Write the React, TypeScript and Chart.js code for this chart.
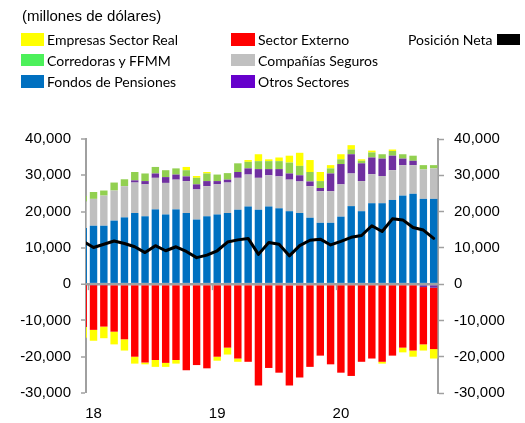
import React, { useEffect, useRef } from 'react';
import { Chart, registerables } from 'chart.js';

Chart.register(...registerables);

// Monthly categories (dic-17 is only partly visible at the left edge)
const months = [
  'dic-17',
  'ene-18', 'feb-18', 'mar-18', 'abr-18', 'may-18', 'jun-18', 'jul-18', 'ago-18', 'sep-18', 'oct-18', 'nov-18', 'dic-18',
  'ene-19', 'feb-19', 'mar-19', 'abr-19', 'may-19', 'jun-19', 'jul-19', 'ago-19', 'sep-19', 'oct-19', 'nov-19', 'dic-19',
  'ene-20', 'feb-20', 'mar-20', 'abr-20', 'may-20', 'jun-20', 'jul-20', 'ago-20', 'sep-20', 'oct-20',
];

const fondosPensiones = [
  15500,
  16100, 16100, 17500, 18400, 19600, 18700, 20600, 19200, 20600, 19600, 17800, 18700,
  19200, 19600, 20500, 21400, 20500, 21400, 20900, 20100, 19600, 18300, 16900, 16900,
  18600, 21500, 20100, 22300, 22300, 23200, 24400, 24900, 23500, 23500,
];

const companiasSeguros = [
  7300,
  7400, 8300, 8300, 8600, 8400, 8800, 8700, 8700, 8200, 8800, 8300, 8300,
  8300, 8400, 8800, 8800, 8800, 8600, 8800, 8700, 8700, 8700, 8700, 8700,
  8900, 9000, 8300, 8000, 7500, 8200, 8400, 7900, 8100, 8400,
];

const otrosSectores = [
  -300,
  -300, -300, 0, 0, 600, 900, 1200, 1600, 1400, 1300, 1400, 1400,
  900, 800, 1600, 1700, 2400, 1700, 2000, 1700, 1700, 1300, 900, 4900,
  5600, 5300, 4900, 4600, 4800, 4000, 1800, 1200, -800, -1000,
];

const sectorExterno = [
  -11500,
  -12300, -11400, -13100, -15200, -20000, -21600, -20900, -21700, -20900, -23700, -22300, -23200,
  -20000, -17500, -20500, -21400, -27900, -23100, -24400, -27900, -25700, -22800, -19700, -22100,
  -24400, -25300, -21400, -20500, -21400, -19700, -17500, -18300, -15800, -16900,
];

const corredorasFFMM = [
  1500,
  1900, 1400, 2200, 1900, 2300, 2100, 1800, 1900, 1700, 1700, 1800, 2100,
  1800, 1800, 2400, 1800, 2200, 2200, 2200, 3000, 2600, 2600, 1900, 1400,
  1300, 1300, 700, 1400, 1200, 1300, 1200, 1400, 1200, 900,
];

const empresasSectorReal = [
  -3000,
  -3000, -3200, -3500, -3100, -1900, -500, -1900, -1100, -1000, 900, 500, 400,
  -1100, -1900, -900, 500, 1900, 500, 1000, 1900, 3600, 3300, 2500, 900,
  1400, 1200, 400, 500, -500, 400, -1300, -1700, -1700, -2600,
];

const posicionNeta = [
  11800,
  10100, 11000, 11900, 11200, 10300, 8700, 10600, 9200, 10300, 9000, 7300, 8000,
  9200, 11600, 12200, 12600, 8200, 11500, 11000, 7800, 10600, 12100, 12400, 10800,
  11800, 12900, 13400, 16100, 14500, 18000, 17700, 15600, 14900, 12600,
];

const yTicks = [-30000, -20000, -10000, 0, 10000, 20000, 30000, 40000];

const FONT = '"Liberation Sans", Arial, sans-serif';
const LEGEND_FONT = 'Lato, "Liberation Sans", Arial, sans-serif';
const AXIS_GRAY = '#a0a0a0';

const yearStartIdx = months
  .map((m, i) => (m.startsWith('ene') ? i : -1))
  .filter((i) => i >= 0);

const yearTicksPlugin = {
  id: 'yearTicks',
  afterDraw(chart: any) {
    const x = chart.scales.x;
    const y = chart.scales.y;
    const ctx = chart.ctx;
    const y0 = y.getPixelForValue(0);
    ctx.save();
    ctx.strokeStyle = AXIS_GRAY;
    ctx.lineWidth = 1.5;
    yearStartIdx.forEach((i) => {
      const px = Math.round(x.getPixelForValue(i - 0.5)) + 0.5;
      if (px <= chart.chartArea.left + 2) return;
      ctx.beginPath();
      ctx.moveTo(px, y0);
      ctx.lineTo(px, y0 + 6);
      ctx.stroke();
    });
    ctx.restore();
  },
};

type LegendEntry = { label: string; color: string; left: number; top: number; boxW: number; boxH: number; boxRight?: boolean };

const legendEntries: LegendEntry[] = [
  { label: 'Empresas Sector Real', color: '#FFFF00', left: 21, top: 39, boxW: 23, boxH: 13 },
  { label: 'Corredoras y FFMM', color: '#4CF05A', left: 21, top: 60, boxW: 23, boxH: 12 },
  { label: 'Fondos de Pensiones', color: '#0070C0', left: 21, top: 81, boxW: 23, boxH: 13 },
  { label: 'Sector Externo', color: '#FF0000', left: 231, top: 39, boxW: 24, boxH: 13 },
  { label: 'Compañías Seguros', color: '#C0C0C0', left: 231, top: 60, boxW: 24, boxH: 12 },
  { label: 'Otros Sectores', color: '#6600CC', left: 231, top: 81, boxW: 24, boxH: 13 },
  { label: 'Posición Neta', color: '#000000', left: 408, top: 39, boxW: 23, boxH: 11, boxRight: true },
];

export default function App() {
  const canvasRef = useRef<HTMLCanvasElement | null>(null);

  useEffect(() => {
    const canvas = canvasRef.current;
    if (!canvas) return;
    const pts = (arr: number[]) => arr.map((v, i) => ({ x: i, y: v }));
    const bar = (label: string, data: number[], color: string) => ({
      type: 'bar' as const,
      label,
      data: pts(data),
      backgroundColor: color,
      borderWidth: 0,
      stack: 'pos',
      order: 1,
      yAxisID: 'y',
      barPercentage: 0.72,
      categoryPercentage: 1,
    });

    const chart = new Chart(canvas, {
      type: 'bar',
      data: {
        datasets: [
          {
            type: 'line' as const,
            label: 'Posición Neta',
            data: pts(posicionNeta),
            borderColor: '#000000',
            borderWidth: 3,
            pointRadius: 0,
            tension: 0,
            order: 0,
            stack: 'net',
            yAxisID: 'y',
            borderJoinStyle: 'round',
            borderCapStyle: 'round',
          } as any,
          bar('Fondos de Pensiones', fondosPensiones, '#0070C0'),
          bar('Compañías Seguros', companiasSeguros, '#BFBFBF'),
          bar('Otros Sectores', otrosSectores, '#7030A0'),
          bar('Sector Externo', sectorExterno, '#FF0000'),
          bar('Corredoras y FFMM', corredorasFFMM, '#92D050'),
          bar('Empresas Sector Real', empresasSectorReal, '#FFFF00'),
        ],
      },
      options: {
        responsive: false,
        animation: false,
        devicePixelRatio: 1,
        layout: { padding: { top: 139, left: 0, right: 0, bottom: 0 } },
        plugins: {
          legend: { display: false },
          tooltip: { enabled: false },
        },
        scales: {
          x: {
            type: 'linear',
            min: 0.27,
            max: 34.42,
            offset: false,
            stacked: true,
            grid: { display: false, drawTicks: false },
            border: { display: false },
            afterBuildTicks: (s: any) => {
              s.ticks = yearStartIdx.map((v) => ({ value: v }));
            },
            afterFit: (s: any) => {
              s.height = 30;
            },
            ticks: {
              autoSkip: false,
              maxRotation: 0,
              padding: 12,
              color: '#000',
              font: { family: FONT, size: 15 },
              callback: (v: any) => {
                const m = months[Math.round(Number(v))];
                return m && m.startsWith('ene') ? m.slice(4) : '';
              },
            },
          },
          y: {
            position: 'left',
            stacked: true,
            min: yTicks[0],
            max: yTicks[yTicks.length - 1],
            z: 1,
            afterFit: (s: any) => {
              s.width = 86;
            },
            ticks: {
              stepSize: 10000,
              padding: 10,
              color: '#000',
              font: { family: FONT, size: 15 },
              callback: (v: any) => Number(v).toLocaleString('en-US'),
            },
            grid: {
              drawOnChartArea: true,
              color: (c: any) => (c.tick && c.tick.value === 0 ? AXIS_GRAY : 'rgba(0,0,0,0)'),
              lineWidth: (c: any) => (c.tick && c.tick.value === 0 ? 2.5 : 0),
              tickColor: AXIS_GRAY,
              tickLength: 5,
              tickWidth: 1.5,
            } as any,
            border: { color: AXIS_GRAY, width: 2 },
          },
          y2: {
            position: 'right',
            min: yTicks[0],
            max: yTicks[yTicks.length - 1],
            afterFit: (s: any) => {
              s.width = 87;
            },
            ticks: {
              stepSize: 10000,
              padding: 10,
              color: '#000',
              font: { family: FONT, size: 15 },
              callback: (v: any) => Number(v).toLocaleString('en-US'),
            },
            grid: {
              drawOnChartArea: false,
              tickColor: AXIS_GRAY,
              tickLength: 6,
              tickWidth: 1.5,
            } as any,
            border: { color: AXIS_GRAY, width: 2 },
          },
        },
      } as any,
      plugins: [yearTicksPlugin],
    });
    return () => chart.destroy();
  }, []);

  return (
    <div
      style={{
        position: 'absolute',
        left: 0,
        top: 0,
        width: 525,
        height: 423,
        background: '#fff',
        overflow: 'hidden',
      }}
    >
      <canvas ref={canvasRef} width={525} height={423} style={{ position: 'absolute', left: 0, top: 0 }} />
      <div
        style={{
          position: 'absolute',
          left: 22,
          top: 7,
          fontFamily: FONT,
          fontSize: 15,
          lineHeight: '17px',
          color: '#000',
          whiteSpace: 'nowrap',
        }}
      >
        (millones de dólares)
      </div>
      {legendEntries.map((e) => {
        const box = (
          <span
            style={{
              display: 'inline-block',
              width: e.boxW,
              height: e.boxH,
              background: e.color,
              flex: 'none',
            }}
          />
        );
        return (
          <div
            key={e.label}
            style={{
              position: 'absolute',
              left: e.left,
              top: e.top - 10,
              height: 20,
              display: 'flex',
              alignItems: 'center',
              fontFamily: LEGEND_FONT,
              fontSize: 14,
              color: '#000',
              whiteSpace: 'nowrap',
            }}
          >
            {!e.boxRight && box}
            <span style={{ marginLeft: e.boxRight ? 0 : 3, marginRight: e.boxRight ? 4 : 0 }}>{e.label}</span>
            {e.boxRight && box}
          </div>
        );
      })}
    </div>
  );
}
